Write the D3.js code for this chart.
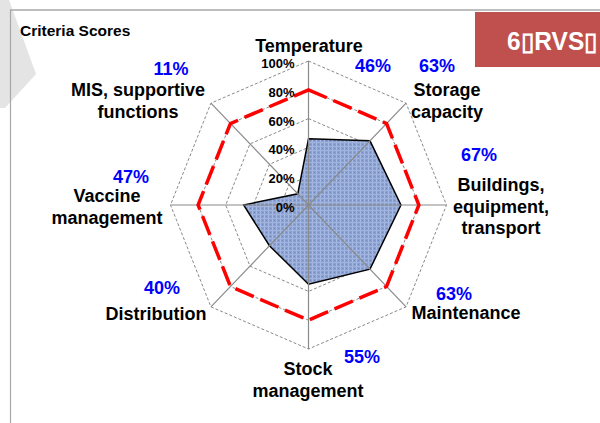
<!DOCTYPE html>
<html><head><meta charset="utf-8">
<script src="https://cdn.jsdelivr.net/npm/d3@7"></script>
<style>
html,body{margin:0;padding:0;background:#fff;}
svg{display:block;font-family:"Liberation Sans",Arial,sans-serif;}
</style></head>
<body>
<svg id="chart" width="600" height="423"></svg>
<script>
// ---- data ----
const categories = [
  ["Temperature"],
  ["Storage","capacity"],
  ["Buildings,","equipment,","transport"],
  ["Maintenance"],
  ["Stock","management"],
  ["Distribution"],
  ["Vaccine","management"],
  ["MIS, supportive","functions"]
];
const scores = [46, 63, 67, 63, 55, 40, 47, 11];
const target = [80, 80, 80, 80, 80, 80, 80, 80];
const tickValues = [0, 20, 40, 60, 80, 100];
const tickLabels = ["0%","20%","40%","60%","80%","100%"];
const title = "Criteria Scores";
const badge = "6\u25AFRVS\u25AF";

// ---- layout (text placement) ----
const catLabelPos = [ [309,52], [447,96], [501,191], [466,319], [308,375], [156,320], [107,202], [138,96] ];
const pctLabelPos = [ [373,72], [437,72], [479,161], [454,300], [362,363], [162,294], [131,183], [171,75] ];
const lineH = 21.5;

const svg = d3.select("#chart");
const cx = 308.5, cy = 205;
const rX = d3.scaleLinear().domain([0,100]).range([0,138]);
const rY = d3.scaleLinear().domain([0,100]).range([0,144]);
const angle = d3.scaleLinear().domain([0, categories.length]).range([0, 2*Math.PI]);
const pt = (i, v) => [cx + rX(v)*Math.sin(angle(i)), cy - rY(v)*Math.cos(angle(i))];
const line = d3.line().curve(d3.curveLinearClosed);

// background decorations
svg.append("polygon").attr("points","0,0 9,0 36,74 5,108 0,108").attr("fill","#e4e4e4");
svg.append("line").attr("x1",10).attr("y1",10).attr("x2",600).attr("y2",10).attr("stroke","#a8a8a8").attr("stroke-width",1.5);
svg.append("line").attr("x1",10.5).attr("y1",10).attr("x2",10.5).attr("y2",423).attr("stroke","#a8a8a8").attr("stroke-width",1.2);

svg.append("rect").attr("x",475).attr("y",12).attr("width",125).attr("height",55).attr("fill","#c0504d");
svg.append("text").attr("x",507).attr("y",50).attr("fill","#fff").attr("font-weight","bold")
  .attr("font-size",25).attr("textLength",91).attr("lengthAdjust","spacingAndGlyphs").text(badge);

svg.append("text").attr("x",20).attr("y",36).attr("font-size",15.5).attr("font-weight","bold").text(title);

// pattern for fill
const defs = svg.append("defs");
const pat = defs.append("pattern").attr("id","tex").attr("width",4).attr("height",4).attr("patternUnits","userSpaceOnUse");
pat.append("rect").attr("width",4).attr("height",4).attr("fill","#89a0d0");
pat.append("rect").attr("x",0).attr("y",0).attr("width",1).attr("height",4).attr("fill","#a6b9e2");
pat.append("rect").attr("x",0).attr("y",2).attr("width",4).attr("height",1).attr("fill","#a0b3dd");
pat.append("rect").attr("x",2).attr("y",0).attr("width",1).attr("height",1).attr("fill","#7088be");

// grid polygons
const gridG = svg.append("g");
tickValues.filter(v => v > 0).forEach(v => {
  gridG.append("path").attr("d", line(categories.map((c,i) => pt(i, v))))
    .attr("fill","none").attr("stroke","#8a8a8a").attr("stroke-width",1).attr("stroke-dasharray","3,2");
});

// score polygon
svg.append("path").attr("d", line(scores.map((v,i) => pt(i, v))))
  .attr("fill","url(#tex)").attr("stroke","#000").attr("stroke-width",1.5).attr("stroke-linejoin","miter");

// spokes
categories.forEach((c,i) => {
  const [x,y] = pt(i,100);
  svg.append("line").attr("x1",cx).attr("y1",cy).attr("x2",x).attr("y2",y)
    .attr("stroke","#8a8a8a").attr("stroke-width",1.2);
});

// target line
svg.append("path").attr("d", line(target.map((v,i) => pt(i, v))))
  .attr("fill","none").attr("stroke","#ff0000").attr("stroke-width",3.5).attr("stroke-dasharray","20,7");

// tick labels
tickValues.forEach((v,k) => {
  svg.append("text").attr("x", cx - 14).attr("y", cy - rY(v) + 7)
    .attr("text-anchor","end").attr("font-size",13).attr("font-weight","bold").attr("fill","#000")
    .text(tickLabels[k]);
});

// category labels
categories.forEach((lines,i) => {
  const t = svg.append("text").attr("text-anchor","middle").attr("font-size",18).attr("font-weight","bold").attr("fill","#000");
  lines.forEach((s,j) => {
    t.append("tspan").attr("x", catLabelPos[i][0]).attr("y", catLabelPos[i][1] + j*lineH).text(s);
  });
});

// percent labels
scores.forEach((v,i) => {
  svg.append("text").attr("x", pctLabelPos[i][0]).attr("y", pctLabelPos[i][1])
    .attr("text-anchor","middle").attr("font-size",18).attr("font-weight","bold").attr("fill","#0000ff")
    .text(v + "%");
});
</script>
</body></html>
